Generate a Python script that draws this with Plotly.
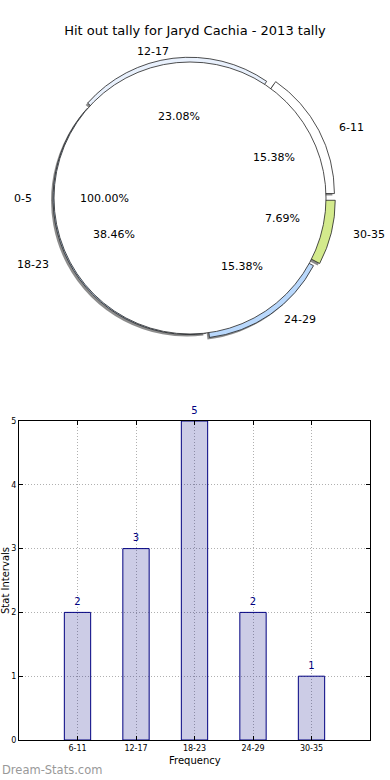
import math
import plotly.graph_objects as go

# ---------------- data ----------------
title_text = "Hit out tally for Jaryd Cachia - 2013 tally"
categories = ["6-11", "12-17", "18-23", "24-29", "30-35"]
counts = [2, 3, 5, 2, 1]
zero_label = "0-5"
zero_share = 100.0
y_ticks = [0, 1, 2, 3, 4, 5]

# ---------------- styles ----------------
W, H = 390, 780
FONT = "DejaVu Sans"
pie_colors = ["#ffffff", "#e9f1fd", "#c2daf8", "#b9d8fc", "#d3ea8c"]
pulls = [0.07, 0.035, 0.008, 0.04, 0.07]
cx, cy, R = 190, 198, 136  # pie centre / radius in px
RX, RY = 142, 130           # text placement radii (reference is slightly elliptic)

total = sum(counts)
pmax = max(pulls)
# plotly (counterclockwise): rotation marks the clockwise edge of the first slice;
# we want the first slice to start at 3 o'clock and run counterclockwise.
rot = 90 - 360.0 * counts[0] / total


def dom(cxp, cyp, half):
    return dict(x=[(cxp - half) / W, (cxp + half) / W],
                y=[1 - (cyp + half) / H, 1 - (cyp - half) / H])


half_a = R * (1 + pmax)
fig = go.Figure()

# shadow
fig.add_trace(go.Pie(
    labels=categories, values=counts, sort=False, direction="counterclockwise",
    rotation=rot, pull=pulls, domain=dom(cx - 2, cy + 2, half_a),
    marker=dict(colors=["rgba(0,0,0,0.45)"] * len(counts), line=dict(width=0)),
    textinfo="none", hoverinfo="skip", showlegend=False))

# exploded slices
fig.add_trace(go.Pie(
    labels=categories, values=counts, sort=False, direction="counterclockwise",
    rotation=rot, pull=pulls, domain=dom(cx, cy, half_a),
    marker=dict(colors=pie_colors, line=dict(color="#222222", width=0.8)),
    textinfo="none", hoverinfo="label+percent", showlegend=False))

# full 0-5 wedge on top
fig.add_trace(go.Pie(
    labels=[zero_label], values=[zero_share], sort=False,
    domain=dom(cx, cy, R),
    marker=dict(colors=["#ffffff"], line=dict(color="#222222", width=0.8)),
    textinfo="none", hoverinfo="skip", showlegend=False))

annotations = []


def add_pie_text(theta, p, lab, pct):
    c, s = math.cos(theta), math.sin(theta)
    lx = cx + (1.1 + p) * RX * c
    ly = cy - (1.1 + p) * RY * s
    annotations.append(dict(
        x=lx / W, y=1 - ly / H, xref="paper", yref="paper", text=lab,
        showarrow=False, xanchor="left" if c > 0 else "right", yanchor="middle",
        font=dict(family=FONT, size=11, color="#000000")))
    px = cx + (0.6 + p) * RX * c
    py = cy - (0.6 + p) * RY * s
    annotations.append(dict(
        x=px / W, y=1 - py / H, xref="paper", yref="paper", text=pct,
        showarrow=False, xanchor="center", yanchor="middle",
        font=dict(family=FONT, size=11, color="#000000")))


add_pie_text(math.pi, 0.0, zero_label, "%.2f%%" % zero_share)
cum = 0
for lab, v, p in zip(categories, counts, pulls):
    theta = 2 * math.pi * (cum + v / 2) / total
    cum += v
    add_pie_text(theta, p, lab, "%.2f%%" % (100.0 * v / total))

# ---------------- bar chart ----------------
xpos = list(range(1, len(categories) + 1))
fig.add_trace(go.Bar(
    x=xpos, y=counts, width=0.45, xaxis="x", yaxis="y",
    marker=dict(color="rgba(0,0,128,0.2)", line=dict(color="#000080", width=1)),
    hoverinfo="x+y", showlegend=False))
fig.add_trace(go.Scatter(
    x=xpos, y=counts, mode="markers+text", text=[str(c) for c in counts],
    textposition="top center", cliponaxis=False, xaxis="x", yaxis="y",
    marker=dict(size=6, opacity=0),
    textfont=dict(family=FONT, size=10, color="#000080"),
    hoverinfo="skip", showlegend=False))

axis_common = dict(
    showline=True, linecolor="#000000", linewidth=1, mirror="ticks",
    ticks="inside", ticklen=4, tickcolor="#000000",
    showgrid=True, gridcolor="#b0b0b0", griddash="1px,2px", gridwidth=1,
    zeroline=False, automargin=False,
    tickfont=dict(family=FONT, size=8, color="#000000"))

fig.update_layout(
    width=W, height=H, margin=dict(l=0, r=0, t=0, b=0),
    paper_bgcolor="#ffffff", plot_bgcolor="#ffffff",
    template="none",
    title=dict(text=title_text, x=0.5, xanchor="center", y=1 - 30 / H,
               yanchor="middle", font=dict(family=FONT, size=13, color="#000000")),
    xaxis=dict(domain=[19 / W, 370 / W], range=[0, len(categories) + 1],
               tickmode="array", tickvals=xpos, ticktext=categories,
               anchor="y", **axis_common),
    yaxis=dict(domain=[1 - 740 / H, 1 - 421 / H], range=[0, max(y_ticks)],
               tickmode="array", tickvals=y_ticks,
               ticktext=[str(t) for t in y_ticks], anchor="x", **axis_common),
    annotations=annotations + [
        dict(x=194.5 / W, y=1 - 760 / H, xref="paper", yref="paper",
             text="Frequency", showarrow=False, xanchor="center", yanchor="middle",
             font=dict(family=FONT, size=10, color="#000000")),
        dict(x=5 / W, y=1 - 581 / H, xref="paper", yref="paper",
             text="Stat Intervals", textangle=-90, showarrow=False,
             xanchor="center", yanchor="middle",
             font=dict(family=FONT, size=10, color="#000000")),
        dict(x=0, y=1 - 770 / H, xref="paper", yref="paper",
             text="Dream-Stats.com", showarrow=False, xanchor="left",
             yanchor="middle",
             font=dict(family=FONT, size=11.5, color="#999999")),
    ],
)

fig.write_html("out.html",
               config={"displayModeBar": False},
               post_script="document.body.style.margin='0';"
                           "document.body.style.overflow='hidden';")
